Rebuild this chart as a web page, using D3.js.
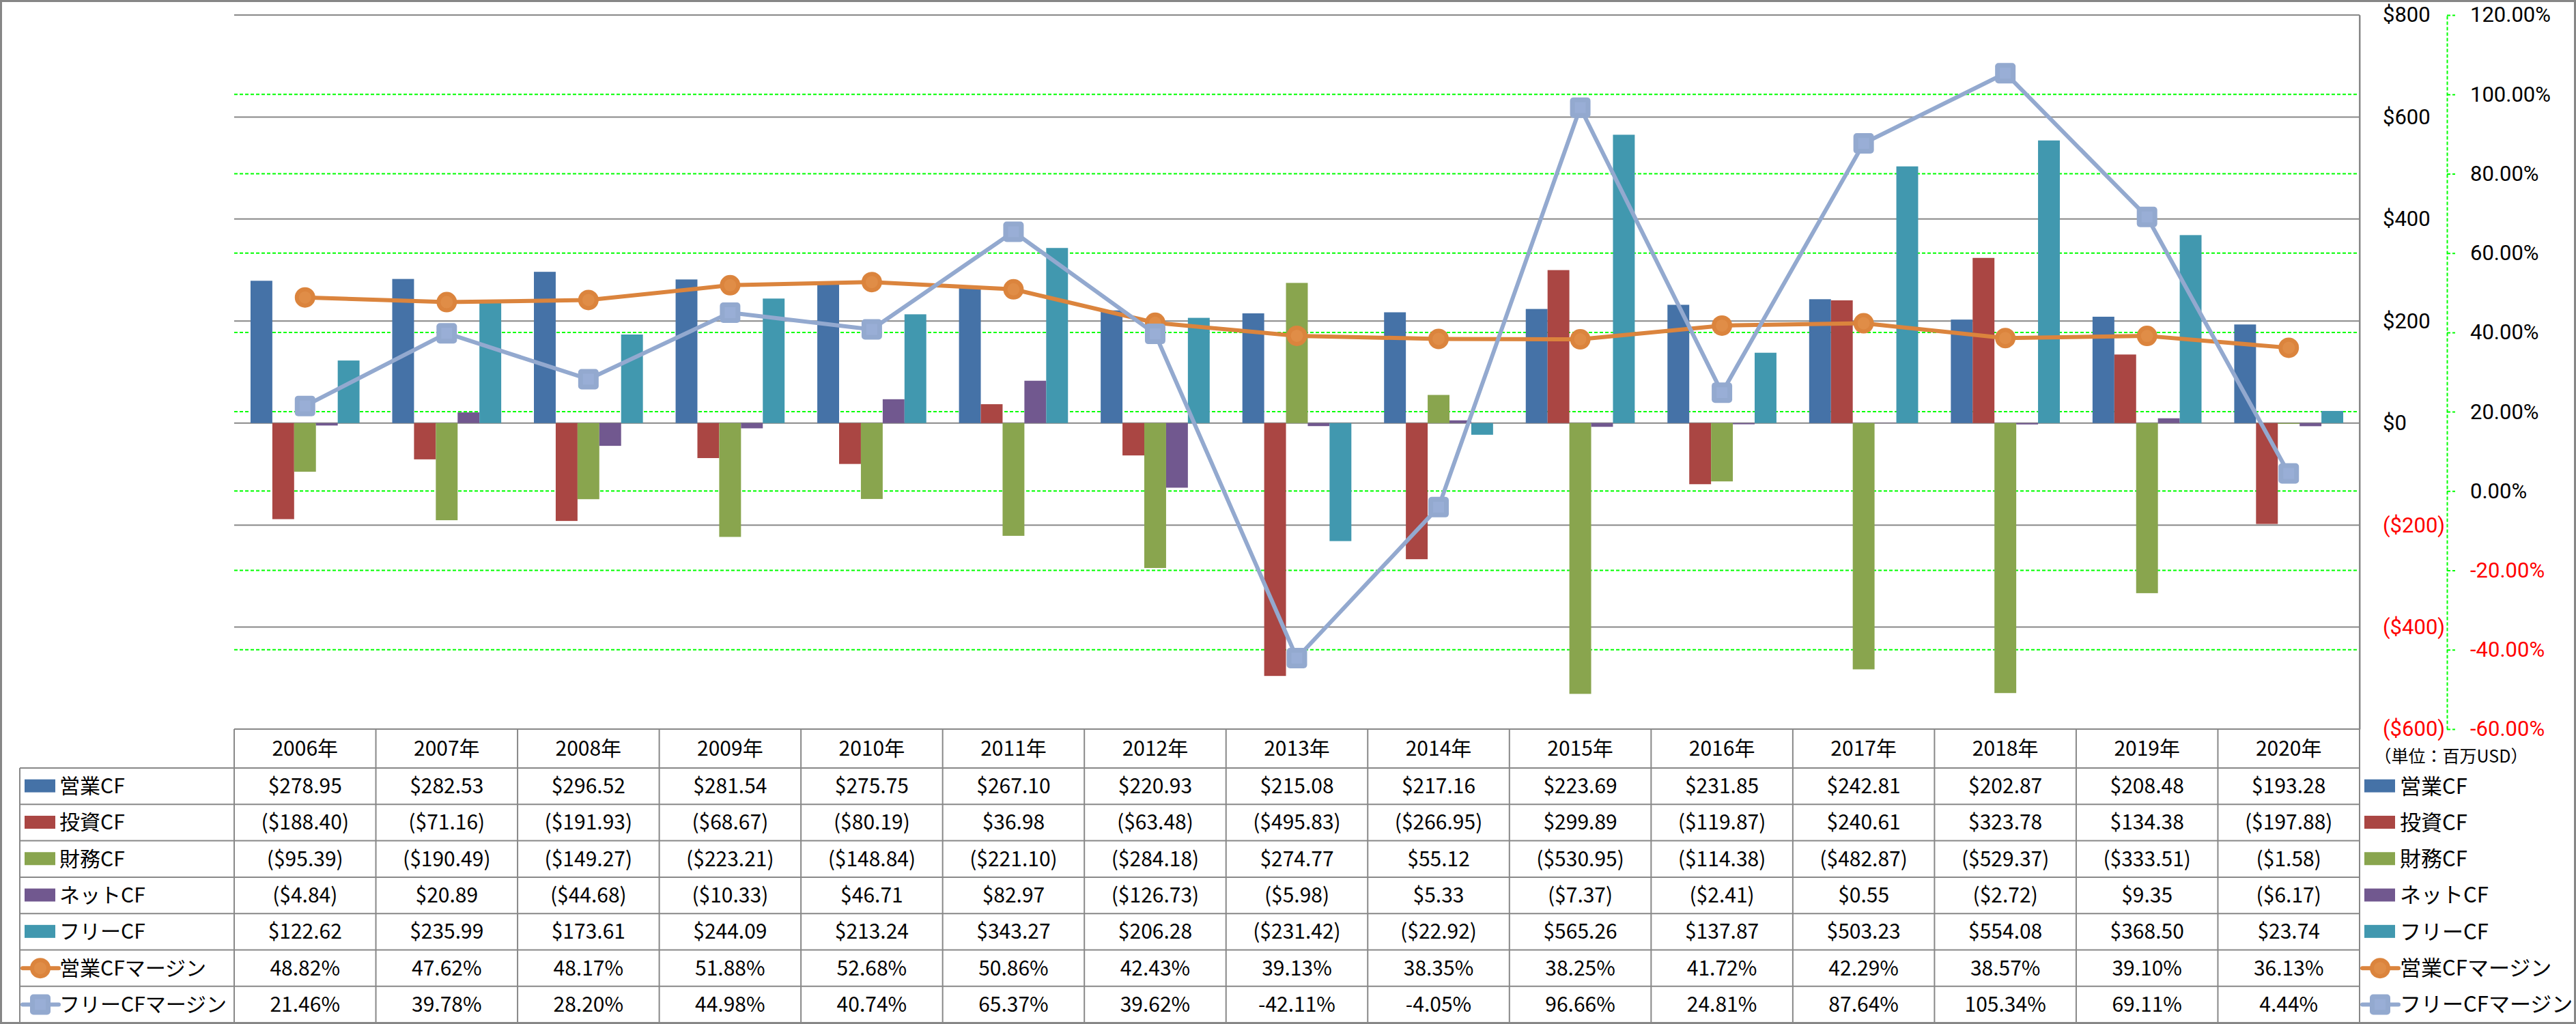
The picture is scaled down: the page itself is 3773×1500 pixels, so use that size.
<!DOCTYPE html>
<html><head><meta charset="utf-8">
<script src="https://cdn.jsdelivr.net/npm/d3@7"></script>
<style>
body{margin:0;background:#fff}
svg{display:block}
text{font-family:"Noto Sans CJK JP","Noto Sans",sans-serif}
</style>
</head><body>
<svg id="c" width="3773" height="1500"></svg>
<script>
// ---------- data ----------
const years = ["2006年","2007年","2008年","2009年","2010年","2011年","2012年","2013年","2014年","2015年","2016年","2017年","2018年","2019年","2020年"];
const opCF   = [278.95,282.53,296.52,281.54,275.75,267.10,220.93,215.08,217.16,223.69,231.85,242.81,202.87,208.48,193.28];
const invCF  = [-188.40,-71.16,-191.93,-68.67,-80.19,36.98,-63.48,-495.83,-266.95,299.89,-119.87,240.61,323.78,134.38,-197.88];
const finCF  = [-95.39,-190.49,-149.27,-223.21,-148.84,-221.10,-284.18,274.77,55.12,-530.95,-114.38,-482.87,-529.37,-333.51,-1.58];
const netCF  = [-4.84,20.89,-44.68,-10.33,46.71,82.97,-126.73,-5.98,5.33,-7.37,-2.41,0.55,-2.72,9.35,-6.17];
const freeCF = [122.62,235.99,173.61,244.09,213.24,343.27,206.28,-231.42,-22.92,565.26,137.87,503.23,554.08,368.50,23.74];
const opMargin   = [48.82,47.62,48.17,51.88,52.68,50.86,42.43,39.13,38.35,38.25,41.72,42.29,38.57,39.10,36.13];
const freeMargin = [21.46,39.78,28.20,44.98,40.74,65.37,39.62,-42.11,-4.05,96.66,24.81,87.64,105.34,69.11,4.44];

const barNames  = ["営業CF","投資CF","財務CF","ネットCF","フリーCF"];
const lineNames = ["営業CFマージン","フリーCFマージン"];
const barColors  = ["#4572A7","#AA4643","#89A54E","#71588F","#4198AF"];
const lineColors = ["#DB843D","#93A9CF"];
const dollarTicks = [-600,-400,-200,0,200,400,600,800];
const pctTicks = [-60,-40,-20,0,20,40,60,80,100,120];
const unitLabel = "（単位：百万USD）";

const barData  = [opCF,invCF,finCF,netCF,freeCF];
const lineData = [opMargin,freeMargin];

// ---------- layout ----------
const W=3773,H=1500,L=343,R=3456,T=22,B=1068;
const TL=29, rowTop=1125, rowH=53.3;
const FONT='"Noto Sans CJK JP","Noto Sans",sans-serif';
const AXFONT='Roboto,"Noto Sans",sans-serif';
const GRAY="#888888", GREEN="#00FF00";

const svg=d3.select("#c");
svg.append("rect").attr("x",1.5).attr("y",1.5).attr("width",W-3).attr("height",H-3)
  .attr("fill","#fff").attr("stroke","#868686").attr("stroke-width",3);

const x=d3.scaleBand().domain(years).range([L,R]).padding(0);
const bw=x.bandwidth(), bar=bw/6.5;
const xb=d3.scaleBand().domain(d3.range(5)).range([0.75*bar,bw-0.75*bar]).padding(0);
const yL=d3.scaleLinear().domain([-600,800]).range([B,T]);
const yR=d3.scaleLinear().domain([-60,120]).range([B,T]);

const fmtD=v=>v<0?`($${(-v).toFixed(2)})`:`$${v.toFixed(2)}`;
const fmtP=v=>`${v.toFixed(2)}%`;

// ---------- gridlines ----------
svg.append("g").selectAll("line").data(pctTicks).join("line")
  .attr("x1",L).attr("x2",R).attr("y1",d=>yR(d)).attr("y2",d=>yR(d))
  .attr("stroke",GREEN).attr("stroke-width",2).attr("stroke-dasharray","5,3");
svg.append("g").selectAll("line").data(dollarTicks).join("line")
  .attr("x1",L).attr("x2",R).attr("y1",d=>yL(d)).attr("y2",d=>yL(d))
  .attr("stroke",GRAY).attr("stroke-width",2);

// ---------- bars ----------
barData.forEach((arr,si)=>{
  svg.append("g").selectAll("rect").data(arr).join("rect")
    .attr("x",(d,i)=>x(years[i])+xb(si))
    .attr("width",xb.bandwidth())
    .attr("y",d=>Math.min(yL(d),yL(0)))
    .attr("height",d=>Math.abs(yL(d)-yL(0)))
    .attr("fill",barColors[si]);
});

// ---------- lines ----------
function circleMarker(g,cx,cy,col){
  g.append("circle").attr("cx",cx).attr("cy",cy).attr("r",15).attr("fill",col);
  g.append("circle").attr("cx",cx).attr("cy",cy).attr("r",9).attr("fill","#E2924F").attr("opacity",0.6);
}
function squareMarker(g,cx,cy,col){
  g.append("rect").attr("x",cx-15).attr("y",cy-15).attr("width",30).attr("height",30).attr("rx",5).attr("fill",col);
  g.append("rect").attr("x",cx-8).attr("y",cy-8).attr("width",16).attr("height",16).attr("fill","#9BB1D8").attr("opacity",0.7);
}
lineData.forEach((arr,li)=>{
  const line=d3.line().x((d,i)=>x(years[i])+bw/2).y(d=>yR(d));
  svg.append("path").datum(arr).attr("d",line).attr("fill","none")
    .attr("stroke",lineColors[li]).attr("stroke-width",6).attr("stroke-linejoin","round");
  const g=svg.append("g");
  arr.forEach((d,i)=>{
    const cx=x(years[i])+bw/2, cy=yR(d);
    if(li===0) circleMarker(g,cx,cy,lineColors[li]); else squareMarker(g,cx,cy,lineColors[li]);
  });
});

// ---------- axes ----------
const ax1=d3.axisRight(yL).tickValues(dollarTicks).tickSize(0).tickPadding(34)
  .tickFormat(d=>d<0?`($${-d})`:`$${d}`);
const g1=svg.append("g").attr("transform",`translate(${R},0)`).call(ax1)
  .attr("font-family",AXFONT).attr("font-size",31);
g1.select(".domain").attr("stroke",GRAY).attr("stroke-width",2);
g1.selectAll(".tick text").attr("fill",d=>d<0?"#FF0000":"#000").style("font-family",AXFONT);

const ax2=d3.axisRight(yR).tickValues(pctTicks).tickSize(12).tickSizeOuter(0).tickPadding(22)
  .tickFormat(d=>d.toFixed(2)+"%");
const g2=svg.append("g").attr("transform","translate(3584,0)").call(ax2)
  .attr("font-family",AXFONT).attr("font-size",31);
g2.select(".domain").attr("stroke",GREEN).attr("stroke-width",2).attr("stroke-dasharray","5,3");
g2.selectAll(".tick line").attr("stroke",GREEN).attr("stroke-width",2).attr("stroke-dasharray","5,3");
g2.selectAll(".tick text").attr("fill",d=>d<0?"#FF0000":"#000").style("font-family",AXFONT);

// ---------- data table ----------
const tb=svg.append("g");
const nRows=7, tableBottom=rowTop+nRows*rowH;
tb.append("line").attr("x1",R).attr("x2",R).attr("y1",T).attr("y2",tableBottom).attr("stroke",GRAY).attr("stroke-width",2);
tb.selectAll("line.col").data(d3.range(years.length)).join("line").attr("class","col")
  .attr("x1",i=>x(years[i])).attr("x2",i=>x(years[i])).attr("y1",B).attr("y2",tableBottom)
  .attr("stroke",GRAY).attr("stroke-width",2);
tb.append("line").attr("x1",TL).attr("x2",TL).attr("y1",rowTop).attr("y2",tableBottom).attr("stroke",GRAY).attr("stroke-width",2);
tb.selectAll("line.row").data(d3.range(nRows+1)).join("line").attr("class","row")
  .attr("x1",TL).attr("x2",R).attr("y1",i=>rowTop+i*rowH).attr("y2",i=>rowTop+i*rowH)
  .attr("stroke",GRAY).attr("stroke-width",2);
tb.selectAll("text.hd").data(years).join("text").attr("class","hd")
  .attr("x",d=>x(d)+bw/2).attr("y",(B+rowTop)/2).attr("dy","0.35em")
  .attr("text-anchor","middle").attr("font-size",30).text(d=>d);

const allNames=barNames.concat(lineNames);
const allData=barData.concat(lineData);
allData.forEach((arr,ri)=>{
  const cy=rowTop+ri*rowH+rowH/2;
  tb.append("g").selectAll("text").data(arr).join("text")
    .attr("x",(d,i)=>x(years[i])+bw/2).attr("y",cy).attr("dy","0.35em")
    .attr("text-anchor","middle").attr("font-size",30)
    .text(d=>ri<5?fmtD(d):fmtP(d));
});

function legendKey(g,kx,cy,ri){
  if(ri<5){
    g.append("rect").attr("x",kx).attr("y",cy-10).attr("width",45).attr("height",19).attr("fill",barColors[ri]);
  } else {
    const col=lineColors[ri-5];
    g.append("line").attr("x1",kx-3).attr("x2",kx+50).attr("y1",cy).attr("y2",cy)
      .attr("stroke",col).attr("stroke-width",6).attr("stroke-linecap","round");
    if(ri===5) circleMarker(g,kx+23,cy,col); else squareMarker(g,kx+23,cy,col);
  }
}
allNames.forEach((nm,ri)=>{
  const cy=rowTop+ri*rowH+rowH/2;
  legendKey(tb,36,cy,ri);
  tb.append("text").attr("x",87).attr("y",cy).attr("dy","0.35em").attr("font-size",30).text(nm);
  legendKey(tb,3463,cy,ri);
  tb.append("text").attr("x",3515).attr("y",cy).attr("dy","0.35em").attr("font-size",31).text(nm);
});

svg.append("text").attr("x",3590).attr("y",1108).attr("dy","0.35em").attr("text-anchor","middle")
  .attr("font-size",25).text(unitLabel);
</script>
</body></html>
